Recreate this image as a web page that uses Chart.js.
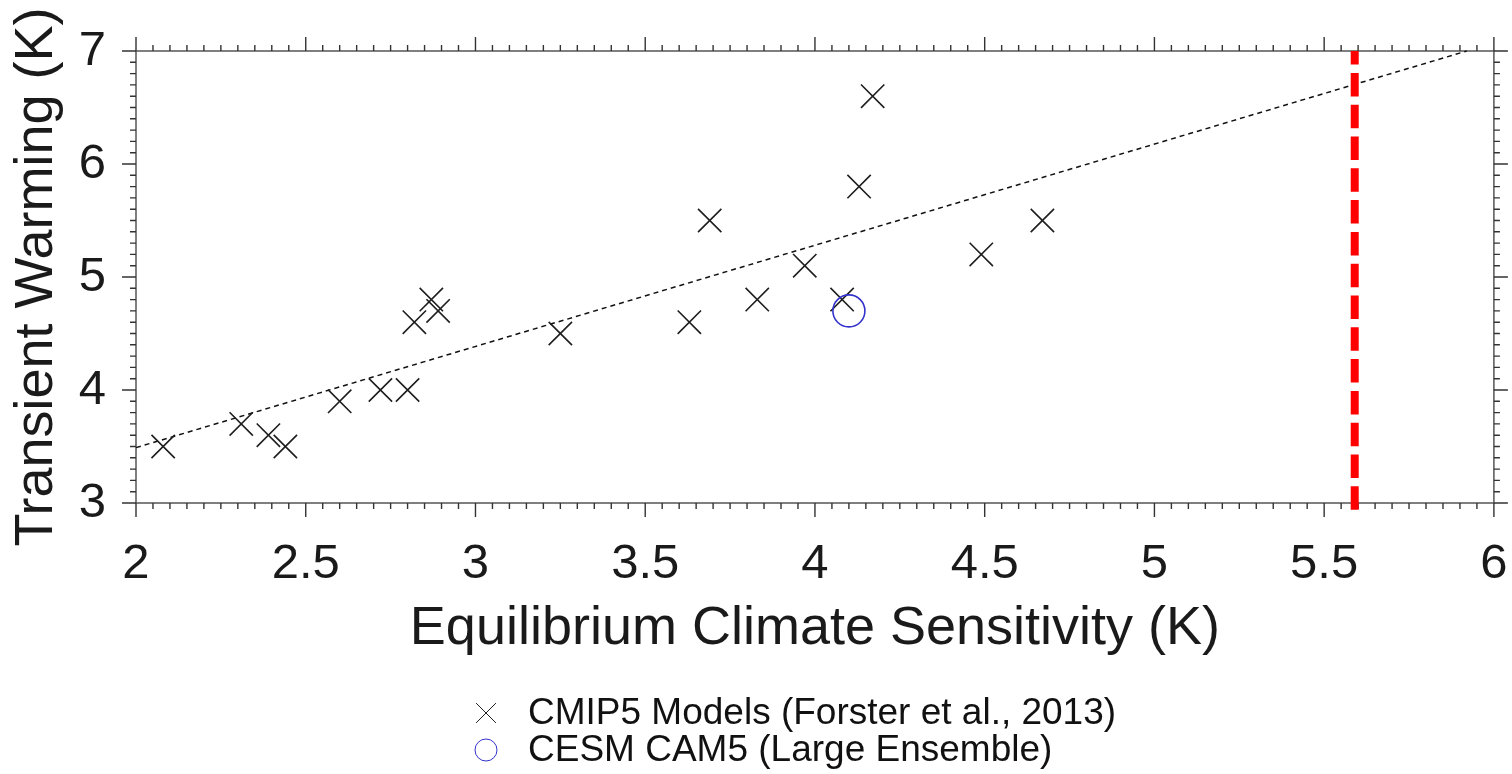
<!DOCTYPE html>
<html><head><meta charset="utf-8">
<script src="https://cdn.jsdelivr.net/npm/chart.js@4.4.0/dist/chart.umd.min.js"></script>
<style>html,body{margin:0;padding:0;background:#fff;overflow:hidden}canvas{display:block}</style>
</head><body>
<canvas id="c" width="1512" height="774"></canvas>
<script>
// ---- data ----
const cmipECS = [2.08, 2.31, 2.39, 2.44, 2.60, 2.72, 2.80, 2.82, 2.87, 2.89, 3.25, 3.63, 3.69, 3.83, 3.97, 4.08, 4.13, 4.17, 4.49, 4.67];
const cmipTW  = [3.50, 3.70, 3.60, 3.50, 3.90, 4.00, 4.00, 4.60, 4.80, 4.70, 4.50, 4.60, 5.50, 4.80, 5.10, 4.80, 5.80, 6.60, 5.20, 5.50];
const cesmECS = [4.10];
const cesmTW  = [4.70];
const fitECS  = [2.00, 5.92];
const fitTW   = [3.49, 7.00];
const ecsLineX = [5.59, 5.59];
const ecsLineY = [2.94, 7.00];
const xTickLabels = [2, 2.5, 3, 3.5, 4, 4.5, 5, 5.5, 6];
const yTickLabels = [3, 4, 5, 6, 7];
const seriesLabels = ['CMIP5 Models (Forster et al., 2013)', 'CESM CAM5 (Large Ensemble)'];

const FONT = '"Liberation Sans", Arial, Helvetica, sans-serif';
const pts = (xs, ys) => xs.map((x, i) => ({x: x, y: ys[i]}));

const bgPlugin = {
  id: 'bg',
  beforeDraw(chart) {
    const c = chart.ctx; c.save(); c.fillStyle = '#fff'; c.fillRect(0, 0, chart.width, chart.height); c.restore();
  }
};

const frameTicks = {
  id: 'frameTicks',
  beforeDatasetsDraw(chart) {
    const {ctx, chartArea: a, scales: {x, y}} = chart;
    ctx.save();
    ctx.strokeStyle = '#555';
    ctx.lineWidth = 1.5;
    ctx.strokeRect(a.left, a.top, a.right - a.left, a.bottom - a.top);
    ctx.strokeStyle = '#333';
    ctx.lineWidth = 1.4;
    ctx.beginPath();
    for (let k = 0; k <= 80; k++) {
      const v = 2 + k * 0.05;
      const L = (k % 10 === 0) ? 14 : 6;
      const px = x.getPixelForValue(v);
      ctx.moveTo(px, a.bottom); ctx.lineTo(px, a.bottom + L);
      ctx.moveTo(px, a.top); ctx.lineTo(px, a.top - L);
    }
    for (let k = 0; k <= 40; k++) {
      const v = 3 + k * 0.1;
      const L = (k % 10 === 0) ? 14 : 6;
      const py = y.getPixelForValue(v);
      ctx.moveTo(a.left, py); ctx.lineTo(a.left - L, py);
      ctx.moveTo(a.right, py); ctx.lineTo(a.right + L, py);
    }
    ctx.stroke();
    ctx.restore();
  }
};

const legendPlugin = {
  id: 'customLegend',
  afterDraw(chart) {
    const ctx = chart.ctx;
    const rows = [713, 750];
    ctx.save();
    ctx.font = '37px ' + FONT;
    ctx.textBaseline = 'middle';
    ctx.textAlign = 'left';
    ctx.fillStyle = '#111';
    [0, 1].forEach((i) => {
      const ds = chart.data.datasets[i];
      const opts = i === 0
        ? {pointStyle: 'crossRot', radius: 14, borderWidth: 1.3}
        : {pointStyle: 'circle', radius: 11, borderWidth: 1.3};
      ctx.strokeStyle = ds.borderColor;
      ctx.fillStyle = 'rgba(0,0,0,0)';
      Chart.helpers.drawPoint(ctx, opts, 486, rows[i]);
      ctx.fillStyle = '#111';
      ctx.fillText(ds.label, 528, rows[i] + 1);
    });
    ctx.restore();
  }
};

new Chart(document.getElementById('c'), {
  type: 'scatter',
  data: {
    datasets: [
      {label: seriesLabels[0], data: pts(cmipECS, cmipTW), pointStyle: 'crossRot', pointRadius: 16.5,
       pointBorderWidth: 1.6, borderColor: '#1e1e1e', backgroundColor: 'rgba(0,0,0,0)', showLine: false, order: 1},
      {label: seriesLabels[1], data: pts(cesmECS, cesmTW), pointStyle: 'circle', pointRadius: 16,
       pointBorderWidth: 1.6, borderColor: '#3333cc', backgroundColor: 'rgba(0,0,0,0)', showLine: false, order: 0},
      {label: 'fit', data: pts(fitECS, fitTW), showLine: true, pointRadius: 0, borderColor: '#111',
       borderWidth: 1.5, borderDash: [5, 4], order: 3, clip: false},
      {label: 'ECS', data: pts(ecsLineX, ecsLineY), showLine: true, pointRadius: 0, borderColor: '#ff0000',
       borderWidth: 8, borderDash: [23.5, 8.3], order: 2, clip: false}
    ]
  },
  options: {
    responsive: false,
    animation: false,
    events: [],
    layout: {padding: {left: 0, top: 51, right: 18, bottom: 112}},
    plugins: {legend: {display: false}, tooltip: {enabled: false}},
    scales: {
      x: {
        type: 'linear', position: 'bottom', min: 2, max: 6,
        afterBuildTicks: (s) => { s.ticks = xTickLabels.map(v => ({value: v})); },
        afterFit: (s) => { s.height = 159; s.paddingLeft = 0; s.paddingRight = 0; },
        grid: {display: false, drawTicks: false},
        border: {display: false},
        ticks: {autoSkip: false, maxRotation: 0, padding: 32, color: '#1a1a1a',
                font: {family: FONT, size: 49}, callback: (v) => String(v)},
        title: {display: true, text: 'Equilibrium Climate Sensitivity (K)', color: '#1a1a1a',
                font: {family: FONT, size: 54}, padding: {top: 0, bottom: 0}}
      },
      y: {
        type: 'linear', position: 'left', min: 3, max: 7,
        afterBuildTicks: (s) => { s.ticks = yTickLabels.map(v => ({value: v})); },
        afterFit: (s) => { s.width = 136; s.paddingTop = 0; s.paddingBottom = 0; },
        grid: {display: false, drawTicks: false},
        border: {display: false},
        ticks: {autoSkip: false, padding: 30, color: '#1a1a1a',
                font: {family: FONT, size: 49}, callback: (v) => String(v)},
        title: {display: true, text: 'Transient Warming (K)', color: '#1a1a1a',
                font: {family: FONT, size: 54}, padding: {top: 5, bottom: 0}}
      }
    }
  },
  plugins: [bgPlugin, frameTicks, legendPlugin]
});
</script>
</body></html>
